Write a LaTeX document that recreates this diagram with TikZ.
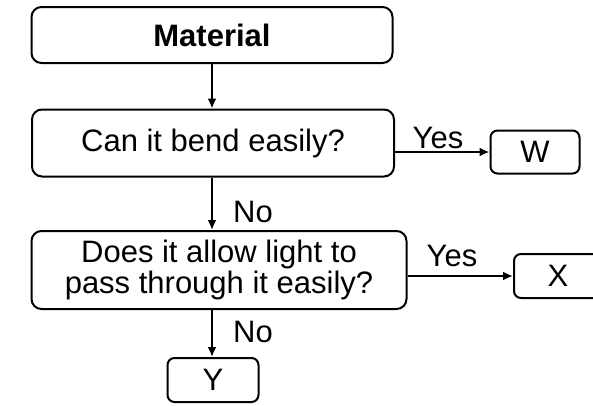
\documentclass[tikz,border=0pt]{standalone}
\usepackage{fontspec}
\setmainfont{Liberation Sans}
\usepackage{tikz}
\usetikzlibrary{arrows.meta}

\tikzset{
box/.style={draw, line width=2pt, rounded corners=10pt, inner sep=0pt, align=center,
  font=\fontsize{31}{31}\selectfont},
smallbox/.style={box, rounded corners=7pt},
lbl/.style={font=\fontsize{31}{31}\selectfont},
arr/.style={-{Latex[length=10pt,width=9pt]}, line width=2pt}
}

\begin{document}
\begin{tikzpicture}[x=1pt,y=-1pt]
\clip (0,0) rectangle (593,405);

\node[box, minimum width=361pt, minimum height=56pt] (mat) at (212,35) {\bfseries Material};
\node[box, minimum width=362pt, minimum height=67pt] (q1) at (213,143) {Can it bend easily?};
\node[smallbox, minimum width=89pt, minimum height=43pt] (w) at (535,152) {W};
\node[box, minimum width=375pt, minimum height=78pt] (q2) at (219,270) {Does it allow light to\\pass through it easily?};
\node[smallbox, minimum width=88pt, minimum height=44pt] (x) at (558,276) {X};
\node[smallbox, minimum width=91pt, minimum height=44pt] (y) at (213,380) {Y};

\draw[arr] (mat) -- (mat.south |- q1.north);
\draw[arr] (q1.south -| mat) -- (mat |- q2.north);
\draw[arr] (q2.south -| mat) -- (mat |- y.north);
\draw[arr] (q1.east |- w) -- (w.west);
\draw[arr] (q2.east |- x) -- (x.west);

\node[lbl] (yes1) at (438,138) {Yes};
\node[lbl] (yes2) at (452,256) {Yes};
\node[lbl] (no1) at (253,212) {No};
\node[lbl] (no2) at (253,332) {No};

\end{tikzpicture}
\end{document}
